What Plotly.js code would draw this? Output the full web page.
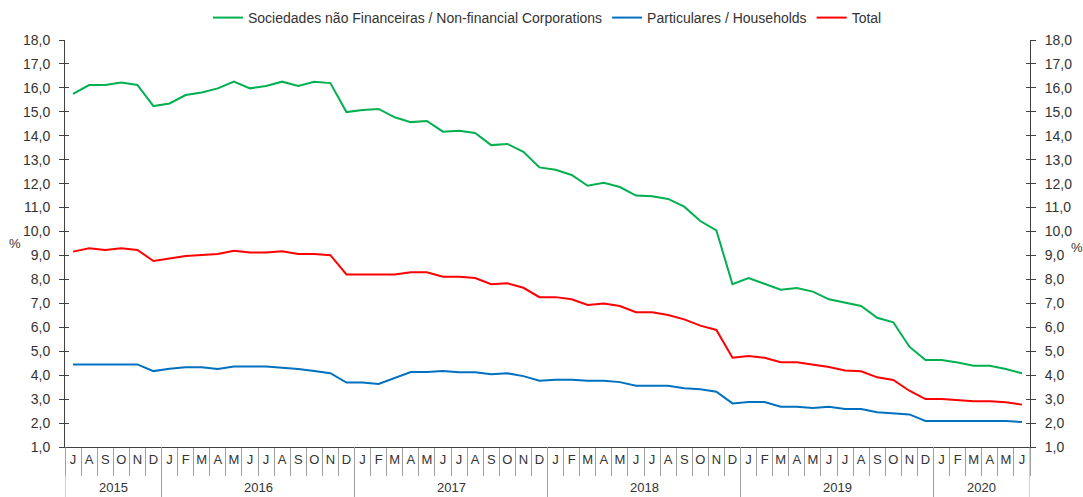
<!DOCTYPE html>
<html>
<head>
<meta charset="utf-8">
<script src="https://cdn.plot.ly/plotly-3.0.1.min.js"></script>
<style>
html,body{margin:0;padding:0;background:#fff;}
#chart{width:1083px;height:497px;}
</style>
</head>
<body>
<div id="chart"></div>
<script>
const monthLabels = [
  'J','A','S','O','N','D',
  'J','F','M','A','M','J','J','A','S','O','N','D',
  'J','F','M','A','M','J','J','A','S','O','N','D',
  'J','F','M','A','M','J','J','A','S','O','N','D',
  'J','F','M','A','M','J','J','A','S','O','N','D',
  'J','F','M','A','M','J'
];
const years = ['2015','2016','2017','2018','2019','2020'];
const monthsPerYear = [6, 12, 12, 12, 12, 6];

const nonFinancial = [
  15.75,16.12,16.12,16.22,16.12,15.24,
  15.35,15.70,15.81,15.98,16.26,15.98,16.08,16.26,16.08,16.26,16.20,14.99,
  15.08,15.12,14.77,14.57,14.62,14.17,14.21,14.12,13.61,13.66,13.33,12.68,
  12.58,12.36,11.91,12.04,11.86,11.50,11.47,11.36,11.04,10.44,10.05,7.80,
  8.06,7.80,7.57,7.64,7.49,7.17,7.03,6.89,6.40,6.21,5.19,4.63,
  4.63,4.53,4.39,4.39,4.26,4.08
];
const households = [
  4.45,4.45,4.45,4.45,4.45,4.17,
  4.27,4.33,4.33,4.26,4.36,4.36,4.36,4.31,4.26,4.17,4.08,3.69,
  3.69,3.63,3.87,4.13,4.13,4.17,4.12,4.12,4.04,4.08,3.96,3.77,
  3.81,3.81,3.77,3.77,3.71,3.56,3.56,3.56,3.45,3.41,3.31,2.82,
  2.88,2.88,2.68,2.68,2.63,2.68,2.59,2.59,2.45,2.41,2.36,2.09,
  2.09,2.09,2.09,2.09,2.09,2.04
];
const total = [
  9.16,9.30,9.23,9.30,9.23,8.77,
  8.87,8.98,9.02,9.06,9.20,9.12,9.12,9.18,9.06,9.06,9.01,8.21,
  8.21,8.21,8.21,8.30,8.30,8.11,8.11,8.06,7.80,7.84,7.65,7.26,
  7.26,7.17,6.93,6.99,6.89,6.63,6.63,6.51,6.33,6.07,5.89,4.73,
  4.80,4.73,4.54,4.54,4.44,4.34,4.20,4.16,3.91,3.80,3.35,3.00,
  3.00,2.96,2.91,2.91,2.87,2.77
];

const idx = monthLabels.map((_, i) => i);
const boundaries = idx.map(i => i - 0.5).concat([monthLabels.length - 0.5]);
const xRange = [-0.5, monthLabels.length - 0.5];

const yearEdges = [ -0.5 ];
monthsPerYear.forEach(n => yearEdges.push(yearEdges[yearEdges.length - 1] + n));
const yearCentres = years.map((_, k) => (yearEdges[k] + yearEdges[k + 1]) / 2);

const axisColor = '#404040';
const sepColor = '#a0a0a0';
const textColor = '#333';

const traces = [
  { x: idx, y: nonFinancial, type: 'scatter', mode: 'lines', name: 'Sociedades não Financeiras / Non-financial Corporations',
    line: { color: '#00b050', width: 2 } },
  { x: idx, y: households, type: 'scatter', mode: 'lines', name: 'Particulares / Households',
    line: { color: '#0070c0', width: 2 } },
  { x: idx, y: total, type: 'scatter', mode: 'lines', name: 'Total',
    line: { color: '#ff0000', width: 2 } },
  { x: [null], y: [null], xaxis: 'x2', yaxis: 'y3', showlegend: false, hoverinfo: 'skip', mode: 'lines' },
  { x: [null], y: [null], xaxis: 'x', yaxis: 'y2', showlegend: false, hoverinfo: 'skip', mode: 'lines' },
  { x: [null], y: [null], xaxis: 'x', yaxis: 'y4', showlegend: false, hoverinfo: 'skip', mode: 'lines' }
];

const yCommon = {
  range: [1, 18], dtick: 1, tick0: 1, tickformat: '.1f',
  showgrid: false, zeroline: false, fixedrange: true
};

const shapes = yearEdges.map(e => ({
  type: 'line', xref: 'x', yref: 'paper', x0: e, x1: e, y0: 0, y1: -0.125,
  line: { color: sepColor, width: 1 }
}));

const annotations = years.map((yr, k) => ({
  text: yr, xref: 'x', yref: 'paper', x: yearCentres[k], y: -0.1,
  xanchor: 'center', yanchor: 'middle', showarrow: false, font: { size: 13, color: textColor }
})).concat([
  { text: '%', xref: 'paper', yref: 'paper', x: -0.052, y: 0.5, showarrow: false,
    xanchor: 'center', yanchor: 'middle', font: { size: 13, color: textColor } },
  { text: '%', xref: 'paper', yref: 'paper', x: 1.049, y: 0.49, showarrow: false,
    xanchor: 'center', yanchor: 'middle', font: { size: 13, color: textColor } }
]);

const layout = {
  width: 1083, height: 497,
  margin: { l: 65, r: 53, t: 40, b: 50, pad: 0 },
  paper_bgcolor: '#fff', plot_bgcolor: '#fff',
  font: { family: 'Liberation Sans, Arial, sans-serif', size: 13, color: textColor },
  separators: ',.',
  showlegend: true,
  legend: { orientation: 'h', x: 0.5, xanchor: 'center', yref: 'container', y: 0.996, yanchor: 'top',
            font: { size: 14, color: textColor }, bgcolor: 'rgba(0,0,0,0)' },
  xaxis: { range: xRange, tickvals: idx, ticktext: monthLabels, ticks: '', showline: true,
           linecolor: axisColor, linewidth: 1, showgrid: false, zeroline: false,
           tickfont: { size: 13, color: textColor }, fixedrange: true },
  xaxis2: { overlaying: 'x', anchor: 'y', range: xRange, tickvals: boundaries, ticks: 'outside',
            ticklen: 28, tickcolor: sepColor, tickwidth: 1, showticklabels: false, showline: false,
            showgrid: false, zeroline: false, fixedrange: true },
  yaxis: Object.assign({}, yCommon, { side: 'left', ticks: 'outside', ticklen: 5, tickcolor: axisColor,
           showline: true, linecolor: axisColor, ticklabelstandoff: 6, tickfont: { size: 14, color: textColor } }),
  yaxis3: Object.assign({}, yCommon, { overlaying: 'y', side: 'left', anchor: 'x', ticks: 'inside', ticklen: 4,
           tickcolor: axisColor, showticklabels: false, showline: false }),
  yaxis2: Object.assign({}, yCommon, { overlaying: 'y', side: 'right', anchor: 'x', ticks: 'outside', ticklen: 5,
           tickcolor: axisColor, showline: true, linecolor: axisColor, ticklabelstandoff: 6,
           tickfont: { size: 14, color: textColor } }),
  yaxis4: Object.assign({}, yCommon, { overlaying: 'y', side: 'right', anchor: 'x', ticks: 'inside', ticklen: 4,
           tickcolor: axisColor, showticklabels: false, showline: false }),
  shapes: shapes,
  annotations: annotations
};

Plotly.newPlot('chart', traces, layout, { displayModeBar: false, staticPlot: true });
</script>
</body>
</html>
